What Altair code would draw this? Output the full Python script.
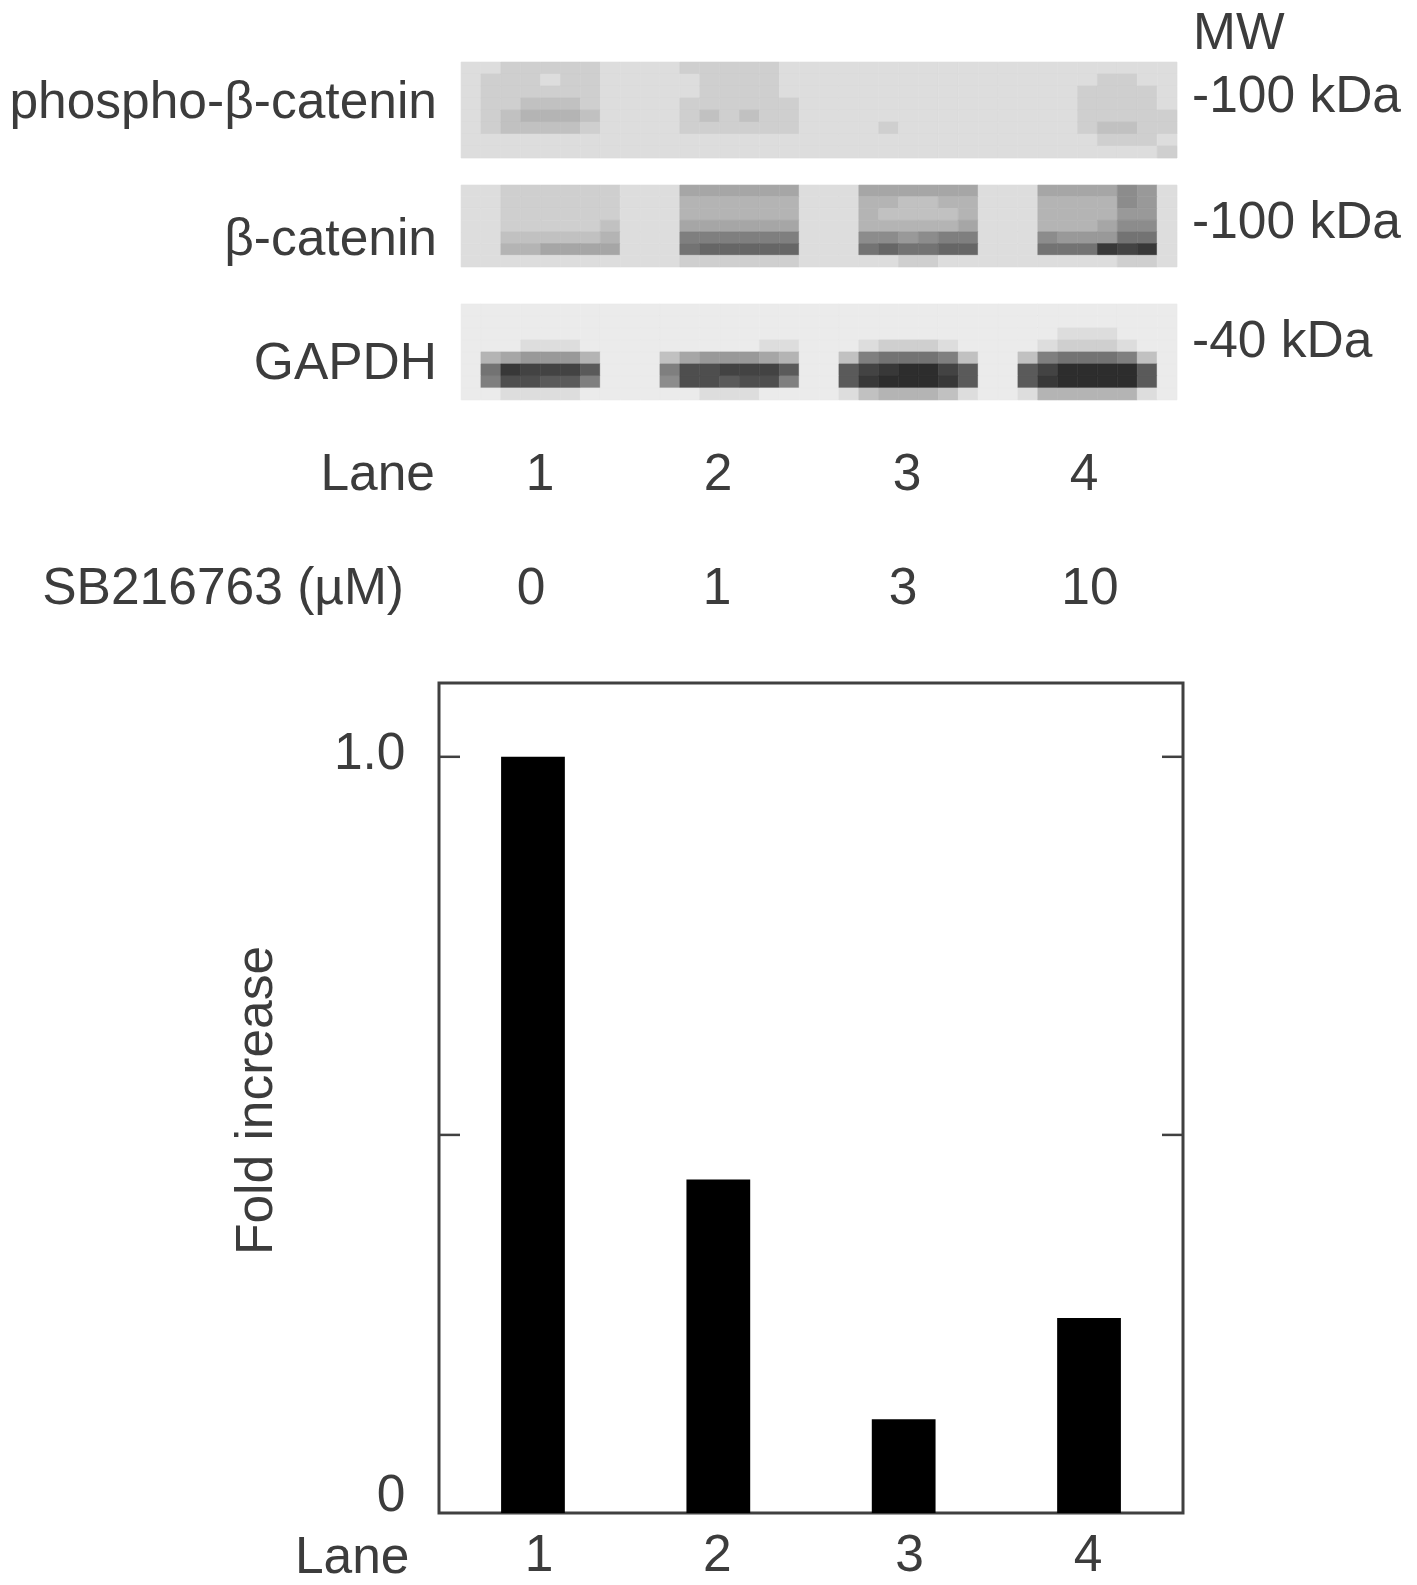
import altair as alt
import pandas as pd

# ---- bar chart values
LANES = ["1", "2", "3", "4"]
FOLD = [1.0, 0.441, 0.124, 0.258]
INNER_TICKS = [0.5, 1.0]
Y_LABEL_TICKS = [0, 1.0]

# ---- blot density, one character per cell (0 light .. f dark)
BLOT_PHOSPHO = [
    "11 22222 1111 22222 11111 11111 1111 111111",
    "12 22122 1111 12222 11111 11111 1111 112211",
    "12 22222 1111 12222 11111 11111 1111 122221",
    "12 23332 1111 22222 21111 11111 1111 122221",
    "12 34443 1111 23232 21111 11111 1111 122222",
    "12 33332 1111 22222 21111 21111 1111 123322",
    "11 11111 1111 11111 11111 11111 1111 112221",
    "11 11111 1111 11111 11111 11111 1111 111112",
]
BLOT_CATENIN = [
    "11 222222 111 555555 111 555555 111 555576 1",
    "11 222222 111 444444 111 443344 111 444476 1",
    "11 222222 111 444444 111 433334 111 444466 1",
    "11 222223 111 555555 111 444445 111 444577 1",
    "11 333334 111 888888 111 776788 111 766699 1",
    "11 445555 111 9aaaaa 111 9a99aa 111 999ede 1",
    "11 111111 111 222222 111 112211 111 111122 1",
]
BLOT_GAPDH = [
    "0 000000 000 0000000 00 0000000 00 0000000 0",
    "0 000000 000 0000000 00 0000000 00 0000000 0",
    "0 000000 000 0000000 00 0000000 00 0011100 0",
    "0 001110 000 0000011 00 0122210 00 0122210 0",
    "0 456664 000 3566654 00 3899983 00 3899983 0",
    "0 9edddb 000 8ccdddb 00 bdeffdb 00 bdffffb 0",
    "0 8ccbb8 000 7ccbcc8 00 befffeb 00 beffffb 0",
    "0 011110 000 0011100 00 1344431 00 1444441 0",
]
BLOTS = [BLOT_PHOSPHO, BLOT_CATENIN, BLOT_GAPDH]
BLOT_TOPS = [4.42, 14.67, 24.58]
BLOT_ROW_UNITS = [1.0, 0.976, 1.0]

rows = []
for blot, top, unit in zip(BLOTS, BLOT_TOPS, BLOT_ROW_UNITS):
    for r, line in enumerate(blot):
        for c, ch in enumerate(line.replace(" ", "")):
            rows.append({"c": c, "c2": c + 1, "r": top + r * unit,
                         "r2": top + (r + 1) * unit, "v": int(ch, 16)})
cells = pd.DataFrame(rows)

FONT = "Liberation Sans"
INK = "#3c3c3c"
FS = 51.5

W, H_TOP, H_BAR = 744, 650, 830


def label(text, x, y, align="left"):
    # x, y in pixels from the panel's origin; y is the text baseline
    return alt.Chart(alt.Data(values=[{"t": text}])).mark_text(
        font=FONT, fontSize=FS, color=INK, align=align, baseline="alphabetic"
    ).encode(text="t:N", x=alt.value(x), y=alt.value(y))


blot_scale = alt.Scale(domain=[0, 15], range=["#ebebeb", "#2d2d2d"])
blot_layer = alt.Chart(cells).mark_rect(strokeWidth=0.6).encode(
    x=alt.X("c:Q", scale=alt.Scale(domain=[-1.11, 36.30], nice=False, zero=False), axis=None),
    x2="c2:Q",
    y=alt.Y("r:Q", scale=alt.Scale(domain=[0, H_TOP / 12], reverse=True, nice=False, zero=False), axis=None),
    y2="r2:Q",
    color=alt.Color("v:Q", scale=blot_scale, legend=None),
    stroke=alt.Stroke("v:Q", scale=blot_scale, legend=None),
)

OX, OY = 439, 8  # panel origin on the page
texts = [
    ("MW", 1193, 48, "left"),
    ("-100 kDa", 1192, 111, "left"),
    ("-100 kDa", 1192, 237, "left"),
    ("-40 kDa", 1192, 356, "left"),
    ("phospho-β-catenin", 437, 117, "right"),
    ("β-catenin", 437, 254, "right"),
    ("GAPDH", 437, 378, "right"),
    ("Lane", 435, 489, "right"),
    ("1", 540, 489, "center"),
    ("2", 718, 489, "center"),
    ("3", 907, 489, "center"),
    ("4", 1084, 489, "center"),
    ("SB216763 (µM)", 404, 603, "right"),
    ("0", 531, 603, "center"),
    ("1", 717, 603, "center"),
    ("3", 903, 603, "center"),
    ("10", 1090, 603, "center"),
]
top = alt.layer(
    blot_layer,
    *[label(t, x - OX, y - OY, a) for t, x, y, a in texts],
).properties(width=W, height=H_TOP)

bars_df = pd.DataFrame({"lane": LANES, "fold": FOLD})
y_scale = alt.Scale(domain=[0, 1.0976], nice=False, zero=True)
y_axis = alt.Axis(values=Y_LABEL_TICKS, title="Fold increase", titleFont=FONT, titleFontSize=FS,
                  titleFontWeight="normal", titleColor=INK, titleX=-183, titleY=417,
                  titleBaseline="middle", labelFlush=True,
                  labelExpr="datum.value == 0 ? '0' : '1.0'",
                  labelOffset={"condition": {"test": "datum.value == 0", "value": 8}, "value": -3},
                  labelFont=FONT, labelFontSize=FS, labelColor=INK, labelPadding=34,
                  ticks=False, domain=False, grid=False)

bars = alt.Chart(bars_df).mark_bar(color="black").encode(
    x=alt.X("lane:N", sort=LANES,
            scale=alt.Scale(paddingInner=0.656, paddingOuter=0.335),
            axis=alt.Axis(title="Lane", titleFont=FONT, titleFontSize=FS, titleFontWeight="normal",
                          titleColor=INK, titleX=-30, titleY=59, titleAlign="right",
                          titleBaseline="alphabetic", labelAngle=0,
                          labelOffset={"condition": {"test": "datum.value == '1' || datum.value == '3'", "value": 6},
                                       "value": -1},
                          labelFont=FONT, labelFontSize=FS, labelColor=INK, labelPadding=16,
                          ticks=False, domain=False, grid=False)),
    y=alt.Y("fold:Q", scale=y_scale, axis=y_axis),
)
t_df = pd.DataFrame({"v": INNER_TICKS})
left_ticks = alt.Chart(t_df).mark_rule(color="#404040", strokeWidth=2.5).encode(
    y=alt.Y("v:Q", scale=y_scale, axis=y_axis), x=alt.value(0), x2=alt.value(21))
right_ticks = alt.Chart(t_df).mark_rule(color="#404040", strokeWidth=2.5).encode(
    y=alt.Y("v:Q", scale=y_scale, axis=y_axis), x=alt.value(W - 21), x2=alt.value(W))

bottom = alt.layer(bars, left_ticks, right_ticks).properties(
    width=W, height=H_BAR,
    view=alt.ViewBackground(stroke="#404040", strokeWidth=3),
)

chart = alt.vconcat(top, bottom, spacing=22).properties(
    padding={"left": 1, "top": 0, "right": 0, "bottom": 0},
    background="white",
).configure_view(stroke=None)

chart.save("out.html", embed_options={"renderer": "svg", "actions": False})
